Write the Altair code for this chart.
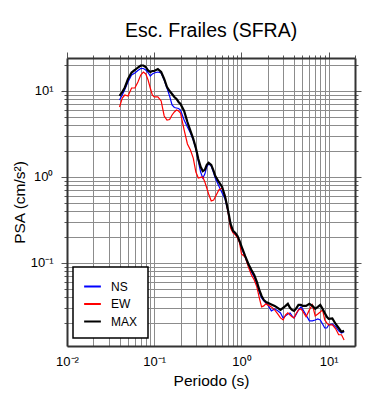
import altair as alt
import pandas as pd

periods = [0.040, 0.043, 0.046, 0.050, 0.055, 0.060, 0.065, 0.070, 0.075, 0.080, 0.085, 0.090, 0.095,
           0.10, 0.11, 0.12, 0.13, 0.14, 0.15, 0.16, 0.17, 0.18, 0.19, 0.20,
           0.22, 0.24, 0.26, 0.28, 0.30, 0.32, 0.34, 0.36, 0.38, 0.40, 0.42, 0.45, 0.48, 0.50,
           0.55, 0.60, 0.65, 0.70, 0.75, 0.80, 0.85, 0.90, 0.95,
           1.0, 1.1, 1.2, 1.3, 1.4, 1.5, 1.6, 1.7, 1.8, 1.9, 2.0,
           2.2, 2.4, 2.6, 2.8, 3.0, 3.2, 3.4, 3.6, 3.8,
           4.0, 4.2, 4.5, 4.8, 5.0,
           5.5, 6.0, 6.5, 7.0, 7.5, 8.0, 8.5, 9.0, 9.5,
           10, 11, 12, 13, 14, 15]

ns = [7.86, 8.98, 10.41, 12.73, 15.35, 16.19, 17.31, 18.27, 18.27, 17.55, 16.41, 14.94, 15.77,
      16.19, 16.63, 16.19, 13.43, 10.84, 8.7, 6.87, 6.43, 6.34, 6.26, 6.01,
      4.60, 3.81, 3.25, 2.69, 2.12, 1.53, 1.14, 0.973, 1.08, 1.31, 1.42, 1.34, 1.11, 0.973,
      0.786, 0.652, 0.55, 0.40, 0.275, 0.229, 0.217, 0.201, 0.1754,
      0.1514, 0.1174, 0.0948, 0.0786, 0.0688, 0.0570, 0.0460, 0.0392, 0.0361, 0.0343, 0.0325,
      0.0277, 0.0292, 0.0277, 0.0262, 0.0229, 0.0242, 0.0255, 0.0262, 0.0242,
      0.0229, 0.0248, 0.0284, 0.0308, 0.0292,
      0.0248, 0.0212, 0.0212, 0.0217, 0.0223, 0.0217, 0.0195, 0.0175, 0.0175,
      0.0190, 0.0195, 0.0180, 0.0162, 0.0153, 0.0158]

ew = [6.52, 8.29, 8.98, 8.75, 10.84, 10.84, 12.73, 15.35, 16.63, 15.77, 13.43, 10.84, 8.98,
      8.52, 8.52, 7.65, 5.12, 4.60, 4.66, 5.26, 5.70, 6.01, 5.85, 5.55,
      3.52, 2.42, 2.06, 1.66, 1.14, 0.973, 0.987, 1.0, 0.875, 0.745, 0.634, 0.526, 0.540, 0.585,
      0.706, 0.745, 0.601, 0.392, 0.255, 0.223, 0.212, 0.195, 0.171,
      0.127, 0.1174, 0.0898, 0.0725, 0.0634, 0.0526, 0.0392, 0.0308, 0.0316, 0.0334, 0.0325,
      0.0308, 0.0284, 0.0255, 0.0229, 0.0217, 0.0248, 0.0262, 0.0248, 0.0236,
      0.0229, 0.0255, 0.0284, 0.0292, 0.0277,
      0.0236, 0.0284, 0.0325, 0.0242, 0.0255, 0.0269, 0.0284, 0.0217, 0.0201,
      0.0190, 0.0190, 0.0171, 0.0146, 0.0146, 0.0127]

mx = [8.75, 9.73, 10.98, 13.79, 16.41, 17.55, 18.76, 19.79, 19.79, 19.01, 17.31, 16.63, 17.08,
      17.08, 18.03, 16.63, 13.79, 11.13, 10.0, 9.23, 8.52, 8.07, 7.45, 7.06,
      5.85, 4.36, 3.43, 2.77, 2.17, 1.62, 1.31, 1.17, 1.21, 1.38, 1.46, 1.38, 1.17, 1.03,
      0.875, 0.765, 0.585, 0.413, 0.284, 0.236, 0.223, 0.206, 0.180,
      0.1555, 0.1206, 0.0973, 0.0829, 0.0725, 0.0601, 0.0485, 0.0413, 0.0371, 0.0352, 0.0343,
      0.0329, 0.0316, 0.0300, 0.0284, 0.0300, 0.0316, 0.0334, 0.0300, 0.0284,
      0.0277, 0.0292, 0.0325, 0.0325, 0.0316,
      0.0316, 0.0334, 0.0316, 0.0292, 0.0308, 0.0325, 0.0292, 0.0262, 0.0236,
      0.0223, 0.0226, 0.0195, 0.0175, 0.0158, 0.0162]

series_names = ["NS", "EW", "MAX"]
series_colors = ["#0000ff", "#ff0000", "#000000"]

x_ticks = [0.01, 0.02, 0.03, 0.04, 0.05, 0.06, 0.07, 0.08, 0.09,
           0.1, 0.2, 0.3, 0.4, 0.5, 0.6, 0.7, 0.8, 0.9,
           1, 2, 3, 4, 5, 6, 7, 8, 9, 10, 20]
y_ticks = [0.02, 0.03, 0.04, 0.05, 0.06, 0.07, 0.08, 0.09,
           0.1, 0.2, 0.3, 0.4, 0.5, 0.6, 0.7, 0.8, 0.9,
           1, 2, 3, 4, 5, 6, 7, 8, 9, 10, 20]

rows = []
for name, vals in zip(series_names, [ns, ew, mx]):
    for p, v in zip(periods, vals):
        rows.append({"period": p, "psa": v, "comp": name})
df = pd.DataFrame(rows)

xs = alt.Scale(type="log", domain=[0.01, 20], nice=False)
ys = alt.Scale(type="log", domain=[0.0108, 24.2], nice=False)

MAJ = "abs(log(datum.value)/LN10 - round(log(datum.value)/LN10)) < 0.000001"
tick_cond = {"condition": {"test": MAJ, "value": 6}, "value": 3}
LBL = ("datum.value == 0.01 ? '10⁻²' : datum.value == 0.1 ? '10⁻¹' : "
       "datum.value == 1 ? '10⁰' : datum.value == 10 ? '10¹' : ''")

FRAME = "#333333"
GRID = "#8c8c8c"

x_axis = alt.Axis(values=x_ticks, grid=True, ticks=False, labelExpr=LBL, labelOverlap=False,
                  labelFlush=False, labelPadding=9, labelFontSize=13, labelColor="black",
                  title="Periodo (s)", titlePadding=5, titleFontSize=15.5, titleFontWeight="normal",
                  titleColor="black", domainColor=FRAME, domainWidth=2,
                  gridColor=GRID, gridWidth=1)
y_axis = alt.Axis(values=y_ticks, grid=True, ticks=True, tickSize=tick_cond, tickColor="#555555",
                  labelExpr=LBL, labelOverlap=False, labelFlush=False, labelPadding=8,
                  labelFontSize=13, labelColor="black",
                  title="PSA (cm/s²)", titlePadding=3, titleFontSize=15.5, titleFontWeight="normal",
                  titleColor="black", domainColor=FRAME, domainWidth=2,
                  gridColor=GRID, gridWidth=1)
x_top = alt.Axis(orient="top", values=x_ticks, grid=False, labels=False, ticks=True,
                 tickSize=tick_cond, tickColor="#555555", title="", domainColor=FRAME, domainWidth=2)
y_right = alt.Axis(orient="right", values=y_ticks, grid=False, labels=False, ticks=True,
                   tickSize=tick_cond, tickColor="#555555", title="", domainColor=FRAME, domainWidth=2)

legend = alt.Legend(title=None, orient="none", legendX=6, legendY=209, padding=10,
                    fillColor="white", strokeColor="black", symbolType="stroke",
                    symbolSize=280, symbolStrokeWidth=2, labelFontSize=12, labelColor="black",
                    labelOffset=9, rowPadding=1.5)
color = alt.Color("comp:N", scale=alt.Scale(domain=series_names, range=series_colors), legend=legend)

base = alt.Chart(df)
l_ns = base.transform_filter("datum.comp == 'NS'").mark_line(strokeWidth=1.2).encode(
    x=alt.X("period:Q", scale=xs, axis=x_axis),
    y=alt.Y("psa:Q", scale=ys, axis=y_axis),
    color=color)
l_ew = base.transform_filter("datum.comp == 'EW'").mark_line(strokeWidth=1.2).encode(
    x=alt.X("period:Q", scale=xs, axis=None),
    y=alt.Y("psa:Q", scale=ys, axis=None),
    color=color)
l_mx = base.transform_filter("datum.comp == 'MAX'").mark_line(strokeWidth=2.2).encode(
    x=alt.X("period:Q", scale=xs, axis=None),
    y=alt.Y("psa:Q", scale=ys, axis=None),
    color=color)
frame = base.transform_filter("datum.comp == 'MAX'").mark_line(opacity=0).encode(
    x=alt.X("period:Q", scale=xs, axis=x_top),
    y=alt.Y("psa:Q", scale=ys, axis=y_right))

chart = alt.layer(l_ns, l_ew, l_mx, frame).resolve_axis(
    x="independent", y="independent"
).properties(
    width=288, height=288,
    padding={"left": 59, "top": 50, "right": 27, "bottom": 46},
    autosize=alt.AutoSizeParams(type="none"),
    title=alt.TitleParams(text="Esc. Frailes (SFRA)", fontSize=19.5, fontWeight="normal",
                          anchor="middle", offset=10, color="black"),
).configure(font="Liberation Sans").configure_view(strokeWidth=0).configure_legend(strokeWidth=1.5)

chart.save("out.html", embed_options={"renderer": "svg", "actions": False})
